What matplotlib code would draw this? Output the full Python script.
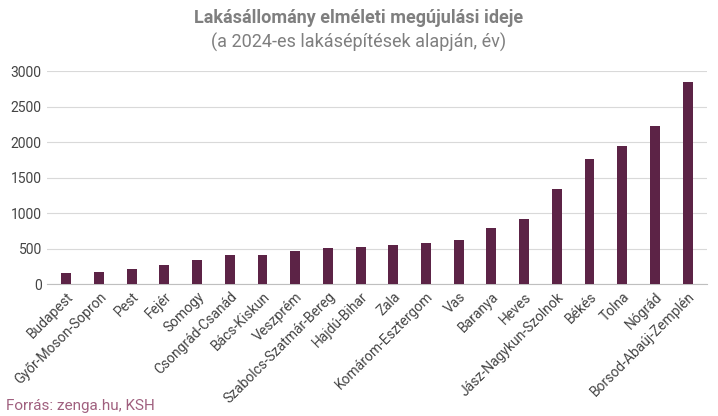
import matplotlib; matplotlib.use("Agg")
import matplotlib.pyplot as plt

counties = ["Budapest", "Győr-Moson-Sopron", "Pest", "Fejér", "Somogy", "Csongrád-Csanád",
            "Bács-Kiskun", "Veszprém", "Szabolcs-Szatmár-Bereg", "Hajdú-Bihar", "Zala",
            "Komárom-Esztergom", "Vas", "Baranya", "Heves", "Jász-Nagykun-Szolnok",
            "Békés", "Tolna", "Nógrád", "Borsod-Abaúj-Zemplén"]
years = [155, 170, 210, 265, 335, 410, 410, 460, 510, 520, 550, 580, 620,
         790, 915, 1335, 1760, 1945, 2225, 2845]
yticks = [0, 500, 1000, 1500, 2000, 2500, 3000]

plt.rcParams["font.family"] = "Roboto"
fig = plt.figure(figsize=(7.18, 4.16), dpi=100)
ax = fig.add_axes([0.065, 0.317, 0.92, 0.512])
ax.bar(range(len(counties)), years, width=0.3, color="#5c2346", zorder=3)
ax.set_ylim(0, 3000)
ax.set_xlim(-0.6, len(counties) - 0.4)
ax.set_yticks(yticks)
ax.tick_params(axis="y", length=0, labelsize=10, labelcolor="#444444")
ax.grid(axis="y", color="#d9d9d9", lw=0.8, zorder=0)
ax.set_xticks(range(len(counties)))
ax.set_xticklabels(counties, rotation=45, ha="right", rotation_mode="anchor",
                   fontsize=10, color="#444444")
ax.tick_params(axis="x", length=0, pad=4)
for s in ["top", "right", "left"]:
    ax.spines[s].set_visible(False)
ax.spines["bottom"].set_color("#bfbfbf")

fig.text(0.5, 0.945, "Lakásállomány elméleti megújulási ideje", ha="center",
         fontsize=13, fontweight="bold", color="#7f7f7f")
fig.text(0.5, 0.885, "(a 2024-es lakásépítések alapján, év)", ha="center",
         fontsize=13, color="#7f7f7f")
fig.text(0.008, 0.015, "Forrás: zenga.hu, KSH", fontsize=11, color="#a0607f")
fig.savefig("out.png", dpi=100)
